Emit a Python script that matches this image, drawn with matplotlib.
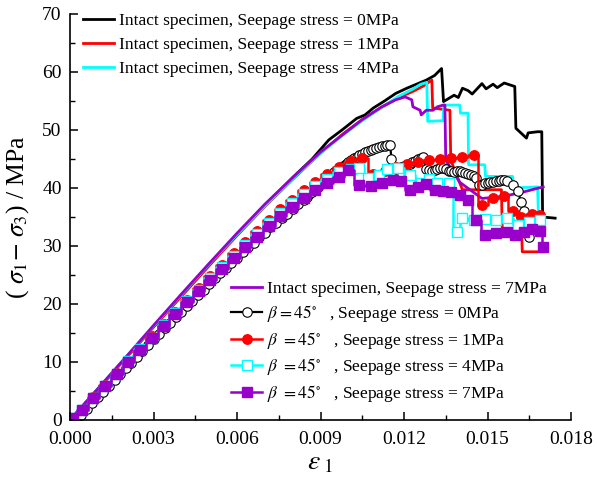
import matplotlib
matplotlib.use("Agg")
import matplotlib.pyplot as plt
from matplotlib.ticker import MultipleLocator, FormatStrFormatter

plt.rcParams['font.family'] = ['Liberation Serif', 'DejaVu Serif']
plt.rcParams['mathtext.fontset'] = 'stix'

# ---------------- data ----------------
intact0_x = [0, 0.001, 0.002, 0.003, 0.004, 0.005, 0.006, 0.007, 0.008, 0.0087, 0.0093, 0.0098, 0.0103, 0.0106,
             0.0109, 0.0113, 0.0117, 0.0121, 0.0125, 0.0128, 0.0131, 0.01335, 0.01342, 0.0138, 0.01395, 0.0141,
             0.0143, 0.01445, 0.0148, 0.01495, 0.0152, 0.01535, 0.0156, 0.01598, 0.01602, 0.0164, 0.01646, 0.0168,
             0.01695, 0.01698, 0.01743]
intact0_y = [0, 5.3, 10.7, 16.1, 21.5, 26.8, 32.0, 37.0, 41.8, 45.0, 48.3, 50.1, 52.0, 52.6, 53.8, 55.0, 56.3, 57.2,
             58.0, 58.6, 59.4, 60.6, 54.9, 56.0, 55.6, 57.2, 56.8, 56.2, 58.0, 57.1, 57.9, 57.3, 58.1, 57.5, 50.3,
             48.6, 49.5, 49.7, 49.7, 35.0, 34.8]

intact1_x = [0, 0.001, 0.002, 0.003, 0.004, 0.005, 0.006, 0.007, 0.008, 0.009, 0.0098, 0.0105, 0.0112, 0.0118,
             0.0123, 0.0127, 0.0130, 0.01303, 0.01365, 0.01368, 0.0141, 0.0155, 0.01553, 0.01622, 0.01625, 0.0170]
intact1_y = [0, 5.3, 10.6, 16.0, 21.3, 26.6, 31.8, 36.8, 41.5, 46.0, 49.3, 51.8, 53.9, 55.6, 56.6, 57.6, 58.6, 53.8,
             53.4, 44.8, 39.7, 39.7, 33.0, 33.0, 29.0, 29.0]

intact4_x = [0, 0.001, 0.002, 0.003, 0.004, 0.005, 0.006, 0.007, 0.008, 0.009, 0.0098, 0.0105, 0.0112, 0.0118,
             0.0123, 0.0126, 0.01282, 0.01285, 0.0134, 0.01343, 0.0140, 0.01403, 0.0143, 0.01432, 0.0149, 0.01493,
             0.0159, 0.01595, 0.0168, 0.01683, 0.0170]
intact4_y = [0, 5.4, 10.8, 16.2, 21.6, 26.9, 32.0, 36.9, 41.6, 46.0, 49.1, 51.6, 53.9, 55.8, 57.0, 57.9, 58.2, 51.5,
             51.6, 54.3, 54.3, 52.9, 52.9, 44.0, 44.0, 42.0, 42.0, 40.0, 40.2, 35.0, 35.0]

intact7_x = [0, 0.001, 0.002, 0.003, 0.004, 0.005, 0.006, 0.007, 0.008, 0.009, 0.0098, 0.0105, 0.0112, 0.0117,
             0.01204, 0.01228, 0.01232, 0.01258, 0.01262, 0.0128, 0.01304, 0.0132, 0.01341, 0.01347, 0.01350,
             0.0140, 0.0148, 0.0155, 0.0162, 0.0170]
intact7_y = [0, 5.4, 10.8, 16.3, 21.7, 27.0, 32.2, 37.2, 41.8, 46.2, 49.2, 51.8, 54.0, 55.2, 55.7, 55.2, 54.0, 53.4,
             52.6, 53.4, 53.4, 54.0, 54.3, 54.3, 44.8, 41.0, 38.2, 38.5, 39.2, 40.2]

b0_x = [0.0002, 0.0004, 0.0006, 0.0008, 0.0010, 0.0012, 0.0014, 0.0016, 0.0018, 0.0020, 0.0022, 0.0024, 0.0026,
        0.0028, 0.0030, 0.0032, 0.0034, 0.0036, 0.0038, 0.0040, 0.0042, 0.0044, 0.0046, 0.0048, 0.0050, 0.0052,
        0.0054, 0.0056, 0.0058, 0.0060, 0.0062, 0.0064, 0.0066, 0.0068, 0.0070, 0.0072, 0.0074, 0.0076, 0.0078,
        0.0080, 0.0082, 0.0084,
        0.0085, 0.0086, 0.0087, 0.0088, 0.0089, 0.0090, 0.0091, 0.0092, 0.0093, 0.0094, 0.0095, 0.0096, 0.0097,
        0.0098, 0.0099, 0.0100, 0.0101, 0.0102, 0.0103, 0.0104, 0.0105, 0.0106, 0.0107, 0.0108, 0.0109, 0.0110,
        0.0111, 0.0112, 0.0113, 0.0114, 0.0115,
        0.01155,
        0.0117, 0.0118, 0.0119, 0.0120, 0.0121, 0.0122, 0.0123, 0.0124, 0.0125, 0.0126, 0.0127,
        0.0128, 0.0129, 0.0130, 0.0131, 0.0132, 0.0133, 0.0134, 0.0135, 0.0136, 0.0137, 0.0138, 0.0139, 0.0140,
        0.0141, 0.0142, 0.0143, 0.0144, 0.0145, 0.0146,
        0.0147, 0.0148, 0.0149, 0.0150, 0.0151, 0.0152, 0.0153, 0.0154, 0.0155, 0.0156, 0.0157,
        0.0159, 0.0161, 0.0162, 0.0163, 0.0165]
b0_y = [0, 0.9, 1.9, 2.9, 3.9, 4.9, 5.9, 6.9, 7.9, 8.9, 9.9, 10.9, 11.9, 12.9, 13.9, 14.9, 15.8, 16.8, 17.8, 18.7,
        19.7, 20.6, 21.6, 22.5, 23.4, 24.4, 25.3, 26.2, 27.1, 28.0, 28.9, 29.8, 30.6, 31.5, 32.3, 33.2, 34.0, 34.8,
        35.6, 36.4, 37.2, 38.0,
        38.4, 38.9, 39.3, 39.8, 40.2, 40.7, 41.1, 41.5, 41.9, 42.3, 42.7, 43.1, 43.4, 43.8, 44.1, 44.5, 44.8, 45.1,
        45.4, 45.7, 45.9, 46.2, 46.4, 46.6, 46.8, 46.9, 47.1, 47.2, 47.3, 47.4, 47.5,
        45.0,
        43.2, 43.4, 43.6, 43.8, 44.0, 44.2, 44.5, 44.7, 45.0, 45.2, 45.4,
        43.2, 43.1, 43.0, 43.1, 43.3, 43.4, 43.5, 43.3, 43.0, 42.9, 42.8, 42.9, 43.0, 42.8, 42.6, 42.4, 42.3, 42.0,
        41.8,
        40.5, 40.6, 40.8, 40.9, 41.0, 41.1, 41.2, 41.2, 41.3, 41.3, 41.2,
        40.5, 39.4, 37.6, 36.1, 31.5]

b1_x = [0.0001, 0.00042, 0.00084, 0.00126, 0.00168, 0.0021, 0.00252, 0.00294, 0.00336, 0.00378, 0.0042, 0.00462,
        0.00504, 0.00546, 0.00588, 0.0063, 0.00672, 0.00714, 0.00756, 0.00798, 0.0084, 0.00882, 0.00924, 0.00966,
        0.01008, 0.0105, 0.0109, 0.0113, 0.0117, 0.0121, 0.0125, 0.0129, 0.0133, 0.0137, 0.0141, 0.0145, 0.0148,
        0.0152, 0.0156, 0.0159, 0.0162, 0.0166, 0.0169]
b1_y = [0.3, 1.8, 3.9, 6.0, 8.1, 10.2, 12.3, 14.4, 16.5, 18.6, 20.7, 22.8, 24.8, 26.8, 28.8, 30.7, 32.6, 34.4, 36.3,
        38.0, 39.6, 41.1, 42.4, 43.6, 44.6, 45.2, 42.4, 43.0, 43.6, 44.1, 44.4, 44.8, 45.0, 45.1, 45.3, 45.7, 37.1,
        38.2, 38.6, 36.0, 35.0, 35.6, 35.3]

b4_x = [0.0001, 0.00042, 0.00084, 0.00126, 0.00168, 0.0021, 0.00252, 0.00294, 0.00336, 0.00378, 0.0042, 0.00462,
        0.00504, 0.00546, 0.00588, 0.0063, 0.00672, 0.00714, 0.00756, 0.00798, 0.0084, 0.00882, 0.00924, 0.00966,
        0.01008, 0.0104, 0.0107, 0.0111, 0.0114, 0.0118, 0.0122, 0.0126, 0.0129, 0.0132, 0.0136, 0.0139, 0.0141,
        0.0145, 0.0149, 0.0153, 0.0157, 0.0161, 0.0165, 0.0169]
b4_y = [0.3, 1.8, 3.8, 5.9, 8.0, 10.1, 12.2, 14.2, 16.3, 18.4, 20.5, 22.5, 24.5, 26.4, 28.3, 30.2, 32.1, 33.9, 35.7,
        37.4, 38.9, 40.3, 41.6, 42.7, 43.2, 43.4, 41.8, 42.3, 43.2, 43.5, 42.2, 40.8, 41.5, 40.8, 40.8, 32.5, 34.8,
        34.5, 34.6, 34.5, 34.8, 33.6, 34.2, 34.5]

b7_x = [0.0001, 0.00042, 0.00084, 0.00126, 0.00168, 0.0021, 0.00252, 0.00294, 0.00336, 0.00378, 0.0042, 0.00462,
        0.00504, 0.00546, 0.00588, 0.0063, 0.00672, 0.00714, 0.00756, 0.00798, 0.0084, 0.00882, 0.00924, 0.00966,
        0.0100, 0.0104, 0.0108, 0.0112, 0.0116, 0.0119, 0.0122, 0.0125, 0.0128, 0.0131, 0.0134, 0.0137, 0.0140,
        0.0143, 0.0146, 0.0149, 0.0153, 0.0157, 0.0160, 0.0163, 0.0166, 0.0169, 0.0170]
b7_y = [0.3, 1.7, 3.8, 5.8, 7.9, 10.0, 12.0, 14.1, 16.2, 18.2, 20.3, 22.2, 24.2, 26.0, 27.9, 29.8, 31.6, 33.4, 35.2,
        36.8, 38.3, 39.6, 40.8, 41.9, 43.1, 40.5, 40.4, 40.9, 41.4, 41.2, 39.7, 40.1, 40.7, 39.6, 39.5, 39.3, 38.8,
        37.9, 34.5, 31.9, 32.2, 32.5, 31.9, 32.5, 33.0, 32.6, 29.9]

pressures = ['0', '1', '4', '7']
intact_labels = ['Intact specimen, Seepage stress = %sMPa' % p for p in pressures]
beta_labels = [r'$\beta=45^{\circ}$   , Seepage stress = 0MPa',
               r'$\beta\ =45^{\circ}$   , Seepage stress = 1MPa',
               r'$\beta\ =45^{\circ}$   , Seepage stress = 4MPa',
               r'$\beta\ =45^{\circ}$   , Seepage stress = 7MPa']

BLACK, RED, CYAN, PURPLE = '#000000', '#FF0000', '#00FFFF', '#9900CC'

# ---------------- figure ----------------
fig = plt.figure(figsize=(5.97, 4.79), dpi=100)
ax = fig.add_axes([70 / 597, 1 - 420 / 479, 501 / 597, 406 / 479])

lw_i = 2.0
h0, = ax.plot(intact0_x, intact0_y, color=BLACK, lw=lw_i)
h1, = ax.plot(intact1_x, intact1_y, color=RED, lw=lw_i)
h4, = ax.plot(intact4_x, intact4_y, color=CYAN, lw=lw_i)
h7, = ax.plot(intact7_x, intact7_y, color=PURPLE, lw=lw_i)

ms = 6.8
g0, = ax.plot(b0_x, b0_y, color=BLACK, lw=1.6, marker='o', ms=ms, mfc='white', mec=BLACK, mew=0.8)
g1, = ax.plot(b1_x, b1_y, color=RED, lw=1.8, marker='o', ms=ms, mfc=RED, mec=RED, drawstyle='steps-mid')
g4, = ax.plot(b4_x, b4_y, color=CYAN, lw=1.8, marker='s', ms=ms, mfc='white', mec=CYAN, mew=1.0,
              drawstyle='steps-mid')
g7, = ax.plot(b7_x, b7_y, color=PURPLE, lw=1.8, marker='s', ms=ms, mfc=PURPLE, mec=PURPLE, drawstyle='steps-mid')

ax.set_xlim(0, 0.018)
ax.set_ylim(0, 70)
ax.xaxis.set_major_locator(MultipleLocator(0.003))
ax.xaxis.set_minor_locator(MultipleLocator(0.0015))
ax.yaxis.set_major_locator(MultipleLocator(10))
ax.yaxis.set_minor_locator(MultipleLocator(5))
ax.xaxis.set_major_formatter(FormatStrFormatter('%.3f'))
ax.spines['top'].set_visible(False)
ax.spines['right'].set_visible(False)
for s in ('left', 'bottom'):
    ax.spines[s].set_linewidth(1.2)
ax.tick_params(which='major', direction='in', length=6, width=1.1, labelsize=14)
ax.tick_params(axis='x', which='major', pad=8)
ax.tick_params(axis='y', which='major', pad=6)
ax.tick_params(which='minor', direction='in', length=3.5, width=1.0)

ax.set_xlabel(r'$\varepsilon_{\ 1}$', fontsize=20, labelpad=2)
ax.set_ylabel(r'( $\sigma_{1}$$-$ $\sigma_{3}$) / MPa', fontsize=18.5, labelpad=8)

leg1 = fig.legend([h0, h1, h4], intact_labels[:3], loc='upper left',
                  bbox_to_anchor=(83 / 597, 1 - 13 / 479), frameon=False, fontsize=12.5,
                  handlelength=1.8, handletextpad=0.25, labelspacing=0.45, borderpad=0, borderaxespad=0)
leg2 = fig.legend([h7, g0, g1, g4, g7], [intact_labels[3]] + beta_labels, loc='upper left',
                  bbox_to_anchor=(231 / 597, 1 - 281 / 479), frameon=False, fontsize=12.5,
                  handlelength=1.8, handletextpad=0.25, labelspacing=0.33, borderpad=0, borderaxespad=0)

fig.savefig('out.png', dpi=100)
